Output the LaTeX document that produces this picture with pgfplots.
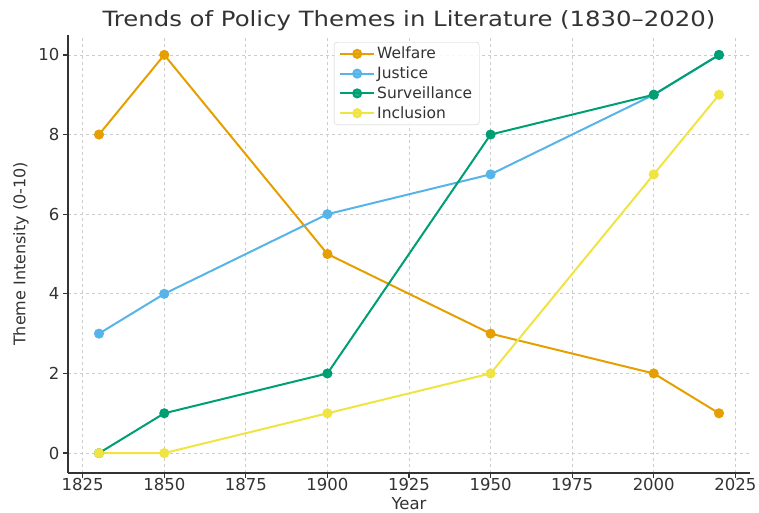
\documentclass[border=0pt]{standalone}
\usepackage{fontspec}
\setmainfont{DejaVu Sans}
\newfontfamily\titlefont[FakeStretch=1.16]{DejaVu Sans}
\usepackage{pgfplots}
\pgfplotsset{compat=1.18}
\definecolor{welf}{HTML}{E69F00}
\definecolor{just}{HTML}{56B4E9}
\definecolor{surv}{HTML}{009E73}
\definecolor{incl}{HTML}{F0E442}
\definecolor{spine}{HTML}{333333}
\definecolor{gridc}{HTML}{CCCCCC}
\begin{document}
\begin{tikzpicture}
\useasboundingbox (-68pt,-39pt) rectangle (691pt,473pt);
\begin{axis}[
  at={(0,0)}, anchor=south west,
  scale only axis, width=682pt, height=438pt,
  xmin=1820.5, xmax=2029.5, ymin=-0.5, ymax=10.5,
  xtick={1825,1850,...,2025}, ytick={0,2,...,10},
  /pgf/number format/assume math mode=true,
  xticklabel style={/pgf/number format/1000 sep={}, font=\fontsize{16.5}{19}\selectfont, text=spine, yshift=3pt},
  yticklabel style={font=\fontsize{16.5}{19}\selectfont, text=spine},
  axis x line*=bottom, axis y line*=left,
  axis line style={spine, line width=1.5pt, -},
  tick style={spine, line width=1.2pt},
  tick align=outside, major tick length=5pt,
  grid=major, major grid style={gridc, dashed, line width=0.8pt},
  every axis title shift=0pt,
  title={Trends of Policy Themes in Literature (1830–2020)},
  title style={font=\titlefont\fontsize{21}{25}\selectfont, text=spine, at={(0.5,1)}, anchor=base, yshift=8pt},
  xlabel={Year}, ylabel={Theme Intensity (0-10)},
  xlabel style={font=\fontsize{16.5}{19}\selectfont, text=spine, at={(axis description cs:0.5,0)}, anchor=base, yshift=-36pt},
  ylabel style={font=\fontsize{16}{19}\selectfont, text=spine, yshift=3pt},
  legend style={at={(0.39,0.984)}, anchor=north west, font=\fontsize{15.5}{18.5}\selectfont,
    draw=gridc, fill=white, fill opacity=0.85, text opacity=1, rounded corners=3pt,
    row sep=2.5pt, inner xsep=5pt, inner ysep=3pt, text=spine},
  legend cell align=left,
  legend image code/.code={\draw[mark repeat=2,mark phase=2] plot coordinates {(0pt,0pt) (17pt,0pt) (34pt,0pt)};},
  every axis plot/.append style={line width=2pt, mark=*, mark size=4pt},
]
\addplot[welf, mark options={fill=welf, draw=welf}] coordinates {(1830,8) (1850,10) (1900,5) (1950,3) (2000,2) (2020,1)};
\addlegendentry{Welfare}
\addplot[just, mark options={fill=just, draw=just}] coordinates {(1830,3) (1850,4) (1900,6) (1950,7) (2000,9) (2020,10)};
\addlegendentry{Justice}
\addplot[surv, mark options={fill=surv, draw=surv}] coordinates {(1830,0) (1850,1) (1900,2) (1950,8) (2000,9) (2020,10)};
\addlegendentry{Surveillance}
\addplot[incl, mark options={fill=incl, draw=incl}] coordinates {(1830,0) (1850,0) (1900,1) (1950,2) (2000,7) (2020,9)};
\addlegendentry{Inclusion}
\end{axis}
\end{tikzpicture}
\end{document}
